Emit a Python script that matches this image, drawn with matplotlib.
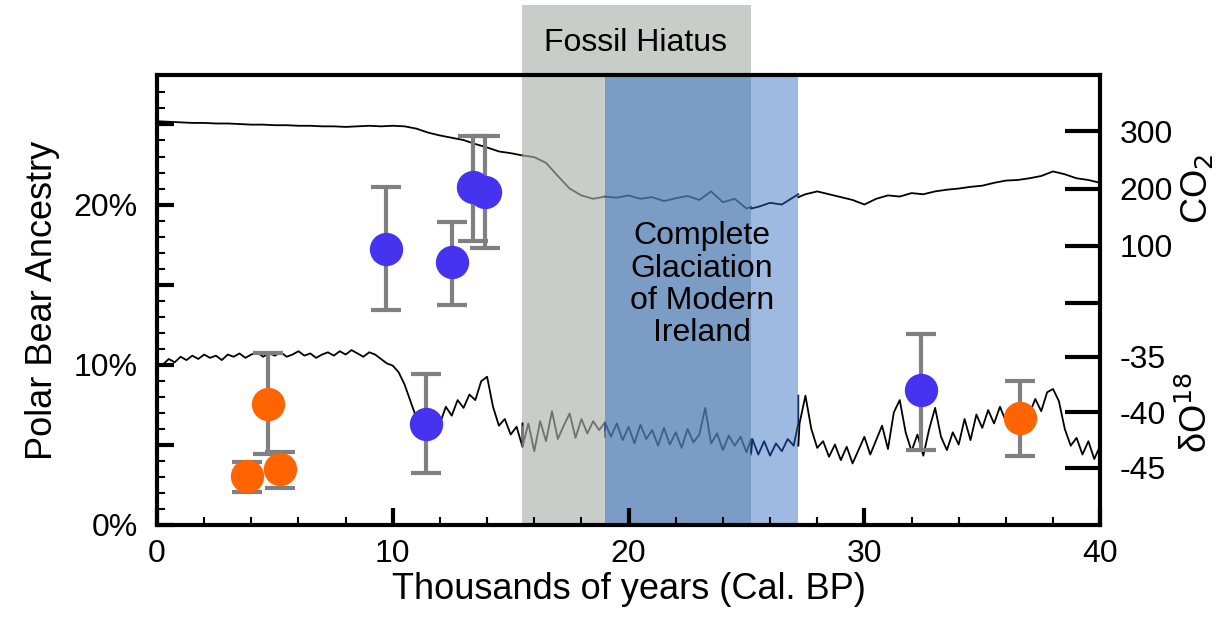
#!/usr/bin/env python3

import numpy as np
import matplotlib
matplotlib.use("Agg")
import matplotlib.pyplot as plt
from matplotlib.patches import Rectangle

plt.rcParams['font.family'] = ['Liberation Sans', 'DejaVu Sans']

# Ancestry samples (kyr BP, %, lower, upper)
blue_x = [9.7, 11.4, 12.5, 13.4, 13.9, 32.4]
blue_y = [17.2, 6.3, 16.4, 21.1, 20.8, 8.4]
blue_lo = [13.4, 3.25, 13.75, 17.7, 17.3, 4.7]
blue_hi = [21.1, 9.4, 18.9, 24.25, 24.25, 11.9]

orange_x = [3.8, 4.7, 5.2, 36.6]
orange_y = [3.06, 7.56, 3.5, 6.7]
orange_lo = [2.06, 4.4, 2.3, 4.3]
orange_hi = [3.9, 10.75, 4.56, 9.0]

# CO2 (ppm), every 0.5 kyr from 0 to 40
co2 = [318, 317, 316, 315, 315, 314, 314, 313, 312, 312, 311, 311, 310, 310, 309,
       309, 308, 309, 310, 309, 310, 309, 305, 298, 293, 289, 285, 278, 272, 265,
       262, 258, 255, 245, 222, 200, 188, 182, 186, 184, 188, 182, 185, 178, 183,
       187, 180, 195, 176, 182, 165, 168, 175, 172, 185, 190, 195, 190, 185, 180,
       172, 182, 188, 186, 192, 190, 195, 198, 200, 203, 205, 210, 214, 215, 218,
       222, 230, 225, 218, 215, 210]

# dO18, every 0.25 kyr from 0 to 40
d18o = [-35.9, -35.7, -35.2, -35.5, -35.0, -35.3, -34.9, -35.2, -34.8, -35.1,
        -34.9, -35.3, -34.8, -35.0, -34.7, -35.1, -34.8, -34.6, -35.0, -34.7,
        -34.9, -34.6, -35.0, -34.8, -34.5, -34.9, -34.7, -35.1, -34.8, -34.6,
        -34.9, -34.5, -34.8, -34.4, -34.7, -35.0, -34.6, -34.8, -35.2, -35.6,
        -35.8, -36.4, -37.5, -39.0, -40.5, -39.8, -40.9, -40.2, -41.0, -39.5,
        -40.3, -38.9, -39.6, -38.4, -38.9, -37.2, -36.8, -39.5, -41.2, -40.6,
        -42.0, -41.3, -43.1, -41.0, -43.5, -40.8, -42.6, -39.9, -42.4, -41.2,
        -40.1, -42.3, -40.6, -41.9, -40.8, -41.6, -40.9, -42.2, -41.0, -42.5,
        -41.3, -42.8, -41.1, -42.4, -41.6, -43.0, -41.4, -42.9, -41.8, -43.2,
        -41.5, -42.7, -42.0, -39.6, -42.8, -41.9, -43.4, -42.1, -43.0, -42.2,
        -43.6, -42.4, -43.8, -42.6, -43.9, -42.8, -43.5, -42.4, -43.0, -41.0,
        -38.5, -41.5, -43.2, -42.6, -44.0, -42.9, -44.3, -43.1, -44.6, -43.4,
        -42.2, -43.8, -42.5, -41.2, -43.3, -40.0, -38.9, -41.8, -43.5, -42.0,
        -43.9, -41.5, -39.6, -42.2, -43.4, -41.8, -42.9, -40.6, -42.5, -40.2,
        -41.4, -39.8, -41.0, -39.5, -40.8, -40.0, -41.2, -39.3, -40.1, -38.8,
        -39.9, -38.2, -37.9, -39.0, -41.5, -43.0, -42.3, -43.8, -42.6, -44.2,
        -43.0]

co2_ticks = [300, 200, 100]
d18o_ticks = [-35, -40, -45]


# Map the right-hand scales onto the left axis units (%)
def co2_to_pct(v):
    return (525 - (132 + (300 - np.asarray(v, float)) * 0.57)) / 16.0


def d18o_to_pct(v):
    return (525 - (357 + (-35 - np.asarray(v, float)) * 11.1)) / 16.0


fig = plt.figure(figsize=(12.17, 6.34), dpi=100)
ax = fig.add_axes([0.129, 0.172, 0.775, 0.71])
ax.set_xlim(0, 40)
ax.set_ylim(0, 28.1)

# Shaded periods
grey_c, both_c, blue_c = '#c9cdc9', '#7b9dc5', '#9ebae1'
ax.add_patch(Rectangle((15.5, 0), 9.7, 1.156, transform=ax.get_xaxis_transform(),
                       color=grey_c, clip_on=False, zorder=1, lw=0))
ax.axvspan(19.0, 25.2, color=both_c, zorder=1.1, lw=0)
ax.axvspan(25.2, 27.2, color=blue_c, zorder=1.1, lw=0)

# Climate curves, coloured by shaded period
x_co2 = np.linspace(0, 40, len(co2))
x_d18 = np.linspace(0, 40, len(d18o))
for xs, ys in [(x_co2, co2_to_pct(co2)), (x_d18, d18o_to_pct(d18o))]:
    for lo, hi, col in [(0, 15.5, 'black'), (15.5, 19.0, '#707070'),
                        (19.0, 25.2, '#3f5f8a'), (25.2, 27.2, '#0d2f66'),
                        (27.2, 40, 'black')]:
        m = (xs >= lo - 0.3) & (xs <= hi + 0.3)
        xx = np.clip(xs[m], lo, hi)
        ax.plot(xx, ys[m], color=col, lw=1.3, zorder=2)

# Ancestry points
for xs, ys, los, his, col in [(blue_x, blue_y, blue_lo, blue_hi, '#4633f0'),
                              (orange_x, orange_y, orange_lo, orange_hi, '#ff6400')]:
    ys = np.array(ys)
    err = [ys - np.array(los), np.array(his) - ys]
    ax.errorbar(xs, ys, yerr=err, fmt='none', ecolor='#808080', elinewidth=3,
                capsize=11, capthick=3, zorder=3)
    ax.plot(xs, ys, 'o', color=col, ms=24, mec='none', zorder=4)

ax.text(20.3, 1.07, 'Fossil Hiatus', transform=ax.get_xaxis_transform(),
        ha='center', va='center', fontsize=23, zorder=5)
ax.text(23.1, 15.0, 'Complete\nGlaciation\nof Modern\nIreland', ha='center',
        va='center', fontsize=23, linespacing=1.1, zorder=5)

# Axes styling
for s in ax.spines.values():
    s.set_linewidth(3)
ax.set_xticks([0, 10, 20, 30, 40])
ax.set_xticks(np.arange(0, 41, 2), minor=True)
ax.set_yticks([0, 5, 10, 15, 20, 25])
ax.set_yticklabels(['0%', '', '10%', '', '20%', ''])
ax.set_yticks(np.arange(0, 28, 1), minor=True)
ax.tick_params(axis='both', which='major', direction='in', length=12, width=3,
               labelsize=23, right=False, top=False)
ax.tick_params(axis='x', which='major', pad=10)
ax.tick_params(axis='y', which='major', pad=14)
ax.tick_params(axis='both', which='minor', direction='in', length=6, width=1.5,
               right=False, top=False)
ax.set_xlabel('Thousands of years (Cal. BP)', fontsize=26, labelpad=2)
ax.set_ylabel('Polar Bear Ancestry', fontsize=26, labelpad=10)

ax2 = ax.twinx()
ax2.set_ylim(ax.get_ylim())
rt = list(co2_to_pct(co2_ticks)) + [co2_to_pct(0)] + list(d18o_to_pct(d18o_ticks))
ax2.set_yticks(rt)
ax2.set_yticklabels([str(v) for v in co2_ticks] + [''] + [str(v) for v in d18o_ticks])
ax2.tick_params(axis='y', direction='in', length=25, width=3, labelsize=23, pad=14)
for s in ax2.spines.values():
    s.set_visible(False)
ax2.text(1.103, co2_to_pct(200), 'CO$_2$', transform=ax2.get_yaxis_transform(),
         rotation=90, ha='center', va='center', fontsize=26)
ax2.text(1.103, d18o_to_pct(-40), 'δO$^{18}$', transform=ax2.get_yaxis_transform(),
         rotation=90, ha='center', va='center', fontsize=26)

plt.savefig('out.png', dpi=100)
